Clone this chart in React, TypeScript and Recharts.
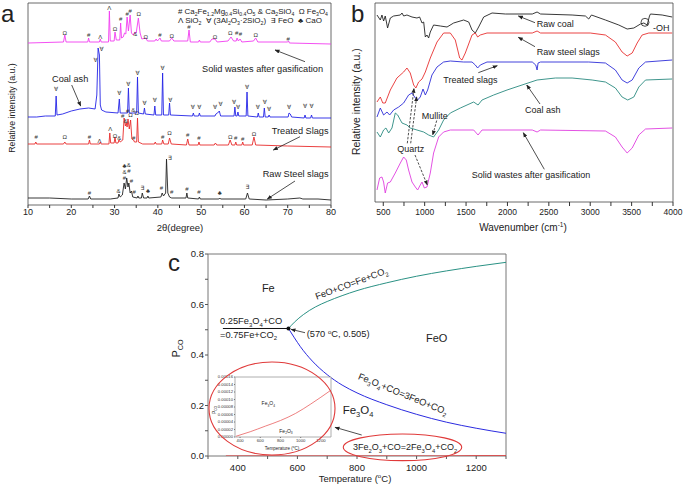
import React from 'react';
import {
  ComposedChart,
  Line,
  Scatter,
  XAxis,
  YAxis,
  ReferenceArea,
  ReferenceDot,
} from 'recharts';

const FONT = '"Liberation Sans", "DejaVu Sans", Arial, sans-serif';

// ---------- panel a : XRD patterns, [2theta, stacked intensity a.u.] ----------
const xrdSolidWastes = [
  [10, 162], [18.2, 163], [18.5, 170], [18.8, 163], [23.8, 163], [24.0, 167], [24.2, 163],
  [26.5, 163], [26.7, 166], [26.9, 163], [28.6, 163], [28.8, 194], [29.0, 164], [29.9, 164],
  [30.1, 173], [30.4, 165], [31.2, 165], [31.4, 182], [31.6, 167], [32.0, 168], [32.3, 172],
  [32.6, 171], [32.9, 188], [33.2, 174], [33.6, 190], [33.9, 172], [34.3, 170], [34.7, 173],
  [35.0, 172], [35.5, 187], [35.9, 172], [36.3, 166], [37.2, 167], [37.6, 164], [39.3, 164],
  [39.6, 166], [39.9, 164], [40.5, 167], [40.8, 164], [42.7, 164], [43.2, 167], [43.7, 164],
  [46.9, 164], [47.2, 175], [47.5, 163], [49.4, 163], [49.6, 165], [49.8, 163], [52.0, 163],
  [52.5, 166], [53.2, 166], [53.7, 163], [56.2, 164], [56.9, 168], [57.5, 164], [58.1, 164],
  [58.3, 167], [58.6, 164], [59.0, 166], [59.4, 163], [62.1, 164], [62.6, 167], [63.1, 163],
  [70.0, 163], [70.2, 164], [70.4, 162], [80, 161],
];
const xrdCoalAsh = [
  [10, 88], [12, 88], [14, 89], [16.3, 89], [16.5, 109], [16.7, 90], [18, 91], [20, 94], [22, 96],
  [24, 97], [25.5, 96], [25.9, 110], [26.2, 157], [26.5, 150], [26.7, 100], [27, 95], [28, 93],
  [30.8, 92], [31.1, 106], [31.3, 92], [33.0, 92], [33.2, 117], [33.4, 92], [35.1, 92], [35.3, 128],
  [35.5, 92], [36.7, 91], [36.9, 97], [37.1, 91], [39.1, 90], [39.3, 99], [39.5, 90], [40.9, 90],
  [41.1, 132], [41.3, 90], [42.5, 90], [42.7, 102], [42.9, 90], [48.0, 89], [48.2, 92], [48.4, 89],
  [49.4, 89], [49.6, 92], [49.8, 89], [53.2, 89], [53.4, 91], [53.8, 92], [54.2, 94], [54.5, 89],
  [57.6, 89], [57.8, 98], [58.0, 89], [58.3, 89], [58.5, 93], [58.7, 89], [60.4, 89], [60.6, 113],
  [60.8, 89], [63.0, 88], [63.2, 92], [63.4, 88], [64.4, 88], [64.6, 97], [64.8, 88], [65.5, 88],
  [65.7, 90], [65.9, 88], [70.1, 88], [70.3, 92], [70.6, 91], [70.9, 88], [73.8, 87], [74.0, 90],
  [74.2, 87], [75.3, 87], [75.5, 90], [75.7, 87], [80, 87],
];
const xrdTreated = [
  [10, 61], [11.6, 61], [11.8, 63], [12.0, 61], [18.2, 61], [18.5, 63], [18.8, 61], [24.0, 61],
  [24.2, 65], [24.4, 61], [26.5, 61], [26.7, 63], [26.9, 61], [28.7, 61], [28.9, 72], [29.1, 62],
  [29.9, 62], [30.1, 68], [30.3, 62], [30.8, 62], [31.0, 65], [31.3, 63], [31.9, 65], [32.2, 87],
  [32.5, 79], [32.7, 82], [32.9, 78], [33.1, 86], [33.4, 76], [33.7, 85], [34.0, 66], [34.4, 65],
  [34.6, 63], [35.1, 63], [35.3, 87], [35.5, 63], [36.5, 61], [39.2, 61], [39.4, 63], [39.6, 61],
  [40.9, 61], [41.1, 65], [41.4, 61], [42.4, 61], [42.7, 67], [43.1, 61], [46.6, 60], [46.9, 66],
  [47.2, 60], [49.3, 60], [49.5, 63], [49.7, 60], [53.0, 60], [53.3, 62], [53.6, 60], [56.3, 60],
  [56.7, 65], [57.1, 60], [57.8, 60], [58.0, 63], [58.2, 60], [59.4, 60], [59.6, 63], [59.8, 60],
  [61.8, 60], [62.2, 68], [62.6, 60], [70, 59], [80, 58],
];
const xrdRawSlag = [
  [10, 7], [15, 7], [20, 6], [23.9, 6], [24.2, 9], [24.5, 6], [29, 6], [30.8, 7], [31.0, 11],
  [31.3, 8], [31.8, 10], [32.2, 22], [32.5, 16], [32.8, 27], [33.1, 18], [33.3, 22], [33.6, 12],
  [33.9, 14], [34.2, 8], [35.2, 7], [35.4, 9], [35.6, 7], [36.2, 7], [36.4, 12], [36.7, 7],
  [37.5, 7], [37.7, 9], [37.9, 7], [40.7, 8], [41.0, 12], [41.3, 9], [41.8, 12], [42.0, 46],
  [42.3, 12], [42.7, 8], [43.2, 7], [46.5, 7], [46.7, 12], [46.9, 7], [49.4, 6], [49.6, 8],
  [49.8, 6], [54.1, 6], [54.3, 7], [54.5, 6], [60.3, 6], [60.7, 12], [61.1, 6], [65, 5], [70, 6],
  [72.8, 7], [73.5, 6], [77, 6], [80, 5],
];
// peak markers [2theta, position, phase symbol]
const tagsSolidWastes = [
  [18.5, 172, 'Ω'], [24.0, 170, '#'], [26.7, 168, 'Λ'], [28.8, 197, 'Λ'], [30.1, 176, 'Ω'],
  [31.4, 186, '#'], [32.9, 191, '#'], [33.6, 194, '#'], [34.8, 171, '&'], [35.6, 191, 'Ω'],
  [37.2, 168, 'Ω'], [40.5, 170, '#'], [43.2, 169, 'Ω'], [47.2, 178, '#'], [53.2, 168, 'Ω'],
  [56.7, 172, 'Ω'], [58.2, 172, '#'], [59.1, 171, '#'], [62.6, 170, 'Ω'], [70.1, 166, '#'],
];
const tagsCoalAsh = [
  [16.5, 116, '∀'], [25.6, 145, '∀'], [27.0, 156, '∀'], [31.1, 112, '∀'], [33.2, 121, '∀'],
  [35.3, 132, '∀'], [36.9, 102, '∀'], [39.3, 105, '∀'], [41.1, 137, '∀'], [42.9, 105, '∀'],
  [48.1, 98, '∀'], [49.6, 98, '∀'], [53.2, 98, '∀'], [54.5, 101, '∀'], [57.6, 103, '∀'],
  [58.5, 98, '∀'], [60.6, 118, '∀'], [63.1, 98, '∀'], [64.7, 103, '∀'], [65.7, 96, '∀'],
  [70.3, 98, '∀'], [74.0, 99, '∀'], [75.5, 99, '∀'],
];
const tagsTreated = [
  [11.9, 68, '#'], [18.5, 68, 'Ω'], [24.2, 68, '#'], [26.5, 64, 'Λ'], [29.0, 76, 'Λ'],
  [30.1, 69, 'Ω'], [31.1, 67, '&'], [31.9, 89, '#'], [32.5, 84, '&'], [33.0, 94, '#'],
  [33.7, 90, 'Ω'], [34.3, 95, '&'], [35.1, 92, 'Ω'], [34.4, 67, '#'], [41.1, 68, '#'],
  [42.7, 72, 'Ω'], [46.9, 70, '#'], [49.5, 67, '#'], [56.7, 68, 'Ω'], [58.0, 67, '#'],
  [59.6, 66, '#'], [62.2, 71, 'Ω'],
];
const tagsRawSlag = [
  [24.2, 12, '#'], [30.9, 14, '&'], [32.3, 39, '♣'], [32.3, 33, '&'], [32.3, 27, '#'],
  [33.3, 40, '&'], [33.3, 34, '#'], [33.9, 24, '#'], [34.5, 13, '#'], [36.4, 17, '∃'],
  [37.7, 14, '♣'], [40.8, 17, '#'], [42.8, 47, '∃'], [43.2, 13, '#'], [46.7, 16, '#'],
  [49.5, 13, '#'], [54.3, 12, '♣'], [60.7, 18, '∃'],
];
const xrdTicks = [10, 15, 20, 25, 30, 35, 40, 45, 50, 55, 60, 65, 70, 75, 80];

// ---------- panel b : FTIR spectra, [wavenumber, stacked transmittance a.u.] ----------
const ftirRawCoal = [
  [424, 187], [464, 182], [484, 187], [504, 181], [524, 186], [552, 174], [585, 184], [625, 186],
  [706, 187], [726, 189], [746, 186], [786, 187], [847, 185], [907, 184], [939, 185], [968, 179],
  [988, 180], [1008, 165], [1028, 167], [1048, 164], [1068, 170], [1108, 177], [1189, 176],
  [1270, 175], [1350, 179], [1471, 182], [1532, 180], [1572, 172], [1612, 169], [1652, 175],
  [1713, 185], [1814, 189], [1975, 188], [2300, 188], [2358, 190], [2400, 188], [2781, 187],
  [2942, 186], [2982, 183], [3015, 187], [3184, 182], [3345, 177], [3446, 173], [3527, 174],
  [3607, 178], [3648, 179], [3688, 177], [3716, 186], [3728, 188], [3869, 187], [3990, 185],
];
const ftirRawSlag = [
  [424, 100], [464, 105], [494, 99], [524, 99], [585, 112], [665, 124], [746, 130], [786, 134],
  [826, 129], [867, 117], [894, 114], [927, 120], [968, 123], [1008, 130], [1068, 144],
  [1149, 160], [1229, 169], [1310, 169], [1370, 162], [1423, 144], [1451, 142], [1491, 149],
  [1572, 167], [1612, 169], [1640, 165], [1672, 167], [1753, 169], [2300, 169], [2358, 171],
  [2400, 169], [3000, 169], [3184, 167], [3304, 160], [3385, 150], [3446, 146], [3507, 149],
  [3567, 159], [3627, 167], [3708, 169], [3990, 169],
];
const ftirTreated = [
  [424, 85], [464, 94], [504, 87], [545, 90], [577, 87], [625, 92], [686, 95], [746, 99],
  [806, 107], [847, 109], [887, 104], [915, 102], [947, 105], [980, 113], [1008, 107], [1036, 112],
  [1088, 127], [1149, 135], [1229, 140], [1310, 141], [1471, 140], [1572, 140], [1612, 137],
  [1640, 134], [1672, 137], [1753, 140], [2300, 140], [2342, 137], [2358, 132], [2370, 139],
  [2400, 140], [2982, 140], [3184, 139], [3304, 132], [3385, 122], [3446, 119], [3507, 122],
  [3587, 134], [3668, 140], [3990, 142],
];
const ftirCoalAsh = [
  [424, 70], [464, 65], [504, 72], [532, 74], [565, 69], [605, 74], [645, 89], [674, 87],
  [726, 79], [786, 77], [826, 74], [907, 72], [988, 70], [1048, 67], [1108, 65], [1169, 72],
  [1229, 82], [1310, 89], [1431, 94], [1592, 100], [1645, 97], [1693, 102], [1834, 107],
  [1995, 112], [2176, 117], [2358, 122], [2580, 124], [2781, 124], [3023, 122], [3184, 120],
  [3304, 114], [3385, 105], [3453, 102], [3527, 105], [3587, 115], [3668, 122], [3990, 123],
];
const ftirSolidWastes = [
  [424, 12], [456, 24], [484, 25], [504, 20], [524, 9], [552, 19], [585, 20], [645, 29], [706, 39],
  [746, 45], [778, 42], [806, 32], [847, 20], [887, 15], [915, 12], [947, 17], [968, 20], [996, 14],
  [1028, 15], [1068, 29], [1108, 49], [1169, 65], [1229, 70], [1310, 72], [1592, 72], [1645, 67],
  [1693, 72], [2300, 72], [2358, 70], [2400, 72], [3184, 71], [3304, 65], [3385, 55], [3446, 49],
  [3507, 54], [3587, 67], [3668, 73], [3990, 74],
];
const ftirTicks = [500, 750, 1000, 1250, 1500, 1750, 2000, 2250, 2500, 2750, 3000, 3250, 3500, 3750, 4000];

// ---------- panel c : Fe-O-C equilibrium, [temperature, pCO] ----------
const feoToFe = [
  [570, 0.505], [590, 0.53], [620, 0.56], [660, 0.59], [700, 0.612], [750, 0.635], [800, 0.655],
  [900, 0.686], [1000, 0.712], [1100, 0.733], [1200, 0.751], [1300, 0.767],
];
const fe3o4ToFeo = [
  [570, 0.505], [590, 0.468], [610, 0.433], [650, 0.376], [700, 0.322], [750, 0.281], [800, 0.25],
  [900, 0.203], [1000, 0.165], [1100, 0.134], [1200, 0.11], [1300, 0.09],
];
const fe3o4ToFe = [[350, 0.505], [570, 0.505]];
const fe2o3ToFe3o4 = [
  [360, 0.000002], [500, 0.000014], [650, 0.000029], [800, 0.000044], [950, 0.000063],
  [1100, 0.000088], [1300, 0.000125],
];
const phaseTicksX = [300, 400, 500, 600, 700, 800, 900, 1000, 1100, 1200, 1300];
const phaseTicksY = [0, 0.1, 0.2, 0.3, 0.4, 0.5, 0.6, 0.7, 0.8];
const insetTicksX = [400, 600, 800, 1000, 1200];
const insetTicksY = [0, 0.00002, 0.00004, 0.00006, 0.00008, 0.0001, 0.00012, 0.00014, 0.00016];

const pts = (a: number[][]) => a.map(([x, y]) => ({ x, y }));
const tags = (a: any[][]) => a.map(([x, y, s]) => ({ x, y, s }));

const TagText = (p: any) => (
  <text x={p.cx} y={p.cy} dy="0.35em" textAnchor="middle" fontSize={6} fill="#333">
    {p.payload.s}
  </text>
);

// text with {_sub} and {^sup} parts
const Rt = ({ x, y, s, fs = 9, anchor = 'start', rot = 0, fill = '#222', len }: any) => {
  const parts = s.split(/(\{[_^][^}]*\})/).filter((p: string) => p !== '');
  let shift = 0;
  const spans = parts.map((p: string, i: number) => {
    const m = p.match(/^\{([_^])(.*)\}$/);
    const target = m ? (m[1] === '_' ? fs * 0.3 : -fs * 0.4) : 0;
    const dy = target - shift;
    shift = target;
    return (
      <tspan key={i} dy={dy} fontSize={m ? fs * 0.65 : fs}>
        {m ? m[2] : p}
      </tspan>
    );
  });
  return (
    <text
      x={x}
      y={y}
      fontSize={fs}
      textAnchor={anchor}
      fill={fill}
      style={{ whiteSpace: 'pre' }}
      textLength={len}
      lengthAdjust={len ? 'spacingAndGlyphs' : undefined}
      transform={rot ? `rotate(${rot} ${x} ${y})` : undefined}
    >
      {spans}
    </text>
  );
};

const Arrow = ({ x1, y1, x2, y2, dash }: any) => (
  <line x1={x1} y1={y1} x2={x2} y2={y2} stroke="#222" strokeWidth={0.8}
    strokeDasharray={dash ? '2.5 1.5' : undefined} markerEnd="url(#arr)" />
);

const XrdPanel = () => (
  <ComposedChart width={345} height={240} margin={{ top: 3, right: 14, left: 28, bottom: 15 }}>
    <XAxis type="number" dataKey="x" domain={[10, 80]} ticks={xrdTicks} interval={0} allowDataOverflow
      tickFormatter={(v) => (v % 10 === 0 ? String(v) : '')} axisLine={false}
      tickLine={{ stroke: '#333' }} tickSize={3} tickMargin={1} height={20}
      tick={{ fontSize: 9, fill: '#222' }} />
    <YAxis type="number" dataKey="y" domain={[0, 202]} hide width={0} />
    <Line data={pts(xrdSolidWastes)} dataKey="y" type="linear" stroke="#f23cf0" strokeWidth={0.9} dot={false} isAnimationActive={false} />
    <Line data={pts(xrdCoalAsh)} dataKey="y" type="linear" stroke="#2424e6" strokeWidth={0.9} dot={false} isAnimationActive={false} />
    <Line data={pts(xrdTreated)} dataKey="y" type="linear" stroke="#e82a2a" strokeWidth={0.9} dot={false} isAnimationActive={false} />
    <Line data={pts(xrdRawSlag)} dataKey="y" type="linear" stroke="#222" strokeWidth={0.9} dot={false} isAnimationActive={false} />
    <Scatter data={tags(tagsSolidWastes)} dataKey="y" shape={TagText} isAnimationActive={false} />
    <Scatter data={tags(tagsCoalAsh)} dataKey="y" shape={TagText} isAnimationActive={false} />
    <Scatter data={tags(tagsTreated)} dataKey="y" shape={TagText} isAnimationActive={false} />
    <Scatter data={tags(tagsRawSlag)} dataKey="y" shape={TagText} isAnimationActive={false} />
    <ReferenceArea x1={10} x2={80} y1={0} y2={202} fill="none" stroke="#444" strokeWidth={0.8} />
  </ComposedChart>
);

const FtirPanel = () => (
  <ComposedChart width={345} height={240} margin={{ top: 3, right: 12, left: 35, bottom: 18 }}>
    <XAxis type="number" dataKey="x" domain={[400, 4000]} ticks={ftirTicks} interval={0} allowDataOverflow
      tickFormatter={(v) => (v % 500 === 0 ? String(v) : '')} axisLine={false}
      tickLine={{ stroke: '#333' }} tickSize={4} tickMargin={3} height={20}
      tick={{ fontSize: 8.5, fill: '#222' }} />
    <YAxis type="number" dataKey="y" domain={[0, 199]} hide width={0} />
    <Line data={pts(ftirRawCoal)} dataKey="y" type="linear" stroke="#222" strokeWidth={0.9} dot={false} isAnimationActive={false} />
    <Line data={pts(ftirRawSlag)} dataKey="y" type="linear" stroke="#e83030" strokeWidth={0.9} dot={false} isAnimationActive={false} />
    <Line data={pts(ftirTreated)} dataKey="y" type="linear" stroke="#2e2ed8" strokeWidth={0.9} dot={false} isAnimationActive={false} />
    <Line data={pts(ftirCoalAsh)} dataKey="y" type="linear" stroke="#2a8a80" strokeWidth={0.9} dot={false} isAnimationActive={false} />
    <Line data={pts(ftirSolidWastes)} dataKey="y" type="linear" stroke="#e03ee0" strokeWidth={0.9} dot={false} isAnimationActive={false} />
    <ReferenceArea x1={400} x2={4000} y1={0} y2={199} fill="none" stroke="#444" strokeWidth={0.8} />
  </ComposedChart>
);

const PhasePanel = () => (
  <ComposedChart width={400} height={244} margin={{ top: 14, right: 34, left: 38, bottom: 8 }}>
    <XAxis type="number" dataKey="x" domain={[300, 1300]} ticks={phaseTicksX} interval={0} allowDataOverflow
      tickFormatter={(v) => (v % 200 === 0 && v > 300 && v < 1300 ? String(v) : '')} axisLine={false}
      tickLine={{ stroke: '#555' }} tickSize={3} tickMargin={5} height={20}
      tick={{ fontSize: 9.5, fill: '#222' }} />
    <YAxis type="number" dataKey="y" domain={[0, 0.8]} ticks={phaseTicksY} interval={0} allowDataOverflow
      tickFormatter={(v) => (Math.round(v * 10) % 2 === 0 ? v.toFixed(1) : '')} axisLine={false}
      tickLine={{ stroke: '#555' }} tickSize={3} tickMargin={1} width={30}
      tick={{ fontSize: 9.5, fill: '#222' }} />
    <Line data={pts(fe3o4ToFe)} dataKey="y" type="linear" stroke="#111" strokeWidth={1} dot={false} isAnimationActive={false} />
    <Line data={pts(feoToFe)} dataKey="y" type="monotone" stroke="#2a9184" strokeWidth={1} dot={false} isAnimationActive={false} />
    <Line data={pts(fe3o4ToFeo)} dataKey="y" type="monotone" stroke="#2b2be0" strokeWidth={1} dot={false} isAnimationActive={false} />
    <Line data={pts(fe2o3ToFe3o4)} dataKey="y" type="monotone" stroke="#e03030" strokeWidth={1.2} dot={false} isAnimationActive={false} />
    <ReferenceDot x={570} y={0.505} r={2} fill="#111" stroke="none" />
    <ReferenceArea x1={300} x2={1300} y1={0} y2={0.8} fill="none" stroke="#777" strokeWidth={1} />
  </ComposedChart>
);

const InsetPanel = () => (
  <ComposedChart width={140} height={86} margin={{ top: 7, right: 9, left: 19, bottom: 9 }}>
    <XAxis type="number" dataKey="x" domain={[350, 1300]} ticks={insetTicksX} interval={0} allowDataOverflow
      axisLine={false} tickLine={{ stroke: '#777' }} tickSize={1} tickMargin={1} height={10}
      tick={{ fontSize: 4.2, fill: '#333' }} />
    <YAxis type="number" dataKey="y" domain={[0, 0.00016]} ticks={insetTicksY} interval={0} allowDataOverflow
      tickFormatter={(v) => v.toFixed(5)} axisLine={false} tickLine={{ stroke: '#777' }}
      tickSize={1} tickMargin={1} width={16} tick={{ fontSize: 4.2, fill: '#333' }} />
    <ReferenceArea x1={350} x2={1300} y1={0} y2={0.00016} fill="#fff" fillOpacity={1} stroke="#999" strokeWidth={0.8} />
    <Line data={pts(fe2o3ToFe3o4)} dataKey="y" type="monotone" stroke="#e86060" strokeWidth={0.8} dot={false} isAnimationActive={false} />
  </ComposedChart>
);

export default function App() {
  return (
    <div style={{ position: 'absolute', left: 0, top: 0, width: 685, height: 484, background: '#fff', fontFamily: FONT, overflow: 'hidden' }}>
      <div style={{ position: 'absolute', left: 0, top: 0 }}><XrdPanel /></div>
      <div style={{ position: 'absolute', left: 340, top: 0 }}><FtirPanel /></div>
      <div style={{ position: 'absolute', left: 140, top: 240 }}><PhasePanel /></div>
      <div style={{ position: 'absolute', left: 200, top: 370 }}><InsetPanel /></div>
      <svg width={685} height={484} style={{ position: 'absolute', left: 0, top: 0, pointerEvents: 'none' }}>
        <defs>
          <marker id="arr" viewBox="0 0 10 10" refX="9" refY="5" markerWidth="5" markerHeight="5"
            orient="auto" markerUnits="userSpaceOnUse">
            <path d="M0,1 L10,5 L0,9 z" fill="#222" />
          </marker>
        </defs>

        {/* panel a */}
        <Rt x={1} y={22} s="a" fs={24} />
        <Rt x={178} y={13.5} fs={7} len={150} s="# Ca{_2}Fe{_1.2}Mg{_0.4}Si{_0.4}O{_5} & Ca{_2}SiO{_4}  Ω Fe{_3}O{_4}" />
        <Rt x={178} y={23} fs={7} len={144} s="Λ SiO{_2}  ∀ (3Al{_2}O{_3}·2SiO{_2})  ∃ FeO  ♣ CaO" />
        <Rt x={202} y={72} fs={9.2} s="Solid wastes after gasification" />
        <Arrow x1={305} y1={61.7} x2={275} y2={50} />
        <Rt x={52} y={81.5} fs={9.2} s="Coal ash" />
        <Arrow x1={71.7} y1={85} x2={80.7} y2={106} />
        <Rt x={271.7} y={134} fs={9.2} s="Treated Slags" />
        <Arrow x1={300} y1={136.7} x2={273.3} y2={150} />
        <Rt x={262.7} y={177.2} fs={9.2} s="Raw Steel slags" />
        <Arrow x1={295} y1={181} x2={267.3} y2={199} />
        <Rt x={14.7} y={108} fs={8.8} anchor="middle" rot={-90} s="Relative intensity (a.u.)" />
        <Rt x={180} y={231} fs={9.5} anchor="middle" s="2θ(degree)" />

        {/* panel b */}
        <Rt x={351} y={22} s="b" fs={24} />
        <Rt x={536.7} y={26.5} fs={9} s="Raw coal" />
        <Arrow x1={535} y1={22.7} x2={518.3} y2={16} />
        <circle cx={645} cy={22.3} r={4} fill="none" stroke="#222" strokeWidth={0.8} />
        <Rt x={653} y={30.5} fs={9} s="-OH" />
        <Rt x={536.7} y={55} fs={9} s="Raw steel slags" />
        <Arrow x1={535} y1={46.7} x2={518.3} y2={37.3} />
        <Rt x={443.3} y={83.2} fs={9} s="Treated slags" />
        <Arrow x1={478.3} y1={72.7} x2={497.3} y2={65.7} />
        <Rt x={525} y={113.2} fs={9} s="Coal ash" />
        <Arrow x1={540} y1={104} x2={526.7} y2={85} />
        <Rt x={471.7} y={178.2} fs={9} s="Solid wastes after gasification" />
        <Arrow x1={544.3} y1={169.3} x2={523.3} y2={132.7} />
        <Rt x={421.7} y={118.9} fs={9} s="Mullite" />
        <Arrow x1={436.7} y1={120.5} x2={432.7} y2={135} dash />
        <Rt x={397.3} y={152.2} fs={9} s="Quartz" />
        <Arrow x1={407.3} y1={143.3} x2={414} y2={88.3} dash />
        <Arrow x1={410.7} y1={143.3} x2={416.7} y2={96.7} dash />
        <Arrow x1={415} y1={155} x2={427.3} y2={185} dash />
        <Rt x={360.5} y={101.7} fs={10.5} anchor="middle" rot={-90} s="Relative intensity (a.u.)" />
        <Rt x={523} y={231.3} fs={10} anchor="middle" s="Wavenumber (cm{^-1})" />

        {/* panel c */}
        <Rt x={168} y={271} s="c" fs={24} />
        <Rt x={268.3} y={291.5} fs={11} anchor="middle" s="Fe" />
        <Rt x={436.7} y={342} fs={11} anchor="middle" s="FeO" />
        <Rt x={342.7} y={414} fs={11.5} s="Fe{_3}O{_4}" />
        <Rt x={220} y={324.3} fs={9.3} s="0.25Fe{_3}O{_4}+CO" />
        <Rt x={220} y={337.6} fs={9.3} s="=0.75Fe+CO{_2}" />
        <Rt x={306.7} y={337.3} fs={9.3} s="(570 {^o}C, 0.505)" />
        <Arrow x1={305} y1={332.7} x2={291} y2={329.3} />
        <Rt x={352.5} y={286.5} fs={9.3} anchor="middle" rot={-20.4} s="FeO+CO=Fe+CO{_2}" />
        <Rt x={401.8} y={397} fs={9.3} anchor="middle" rot={22.2} s="Fe{_3}O{_4}+CO=3FeO+CO{_2}" />
        <Rt x={353} y={450} fs={9} s="3Fe{_2}O{_3}+CO=2Fe{_3}O{_4}+CO{_2}" />
        <ellipse cx={272} cy={408.5} rx={63} ry={46.5} fill="none" stroke="#e03a3a" strokeWidth={1.1} />
        <ellipse cx={402.5} cy={447.3} rx={59.2} ry={13.3} fill="none" stroke="#e03a3a" strokeWidth={1.1} />
        <Arrow x1={361.7} y1={435} x2={335} y2={427.3} />
        <Rt x={179.5} y={348.5} fs={11} anchor="middle" rot={-90} s="P{_CO}" />
        <Rt x={355} y={481.6} fs={9.5} anchor="middle" s="Temperature ({^o}C)" />
        {/* inset texts */}
        <Rt x={268.3} y={405} fs={5} anchor="middle" s="Fe{_3}O{_4}" />
        <Rt x={286} y={432.7} fs={5} anchor="middle" s="Fe{_2}O{_3}" />
        <Rt x={215.5} y={410} fs={5} anchor="middle" rot={-90} s="P{_CO}" />
        <Rt x={282} y={449.5} fs={4.5} anchor="middle" s="Temperature ({^o}C)" />
      </svg>
    </div>
  );
}
